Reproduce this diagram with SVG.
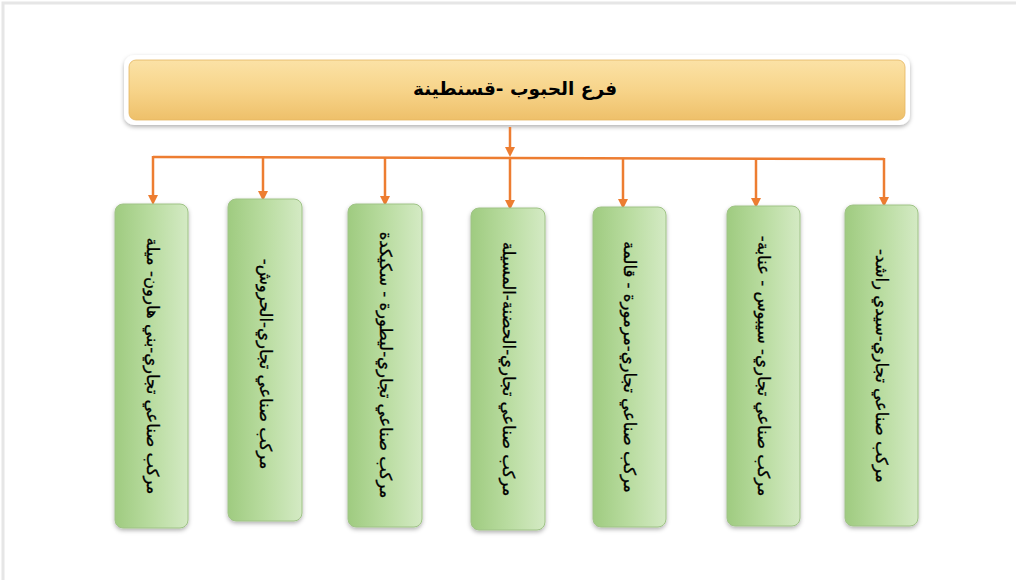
<svg xmlns="http://www.w3.org/2000/svg" width="1016" height="580" viewBox="0 0 1016 580">
<defs>
<linearGradient id="gold" x1="0" y1="0" x2="0" y2="1">
<stop offset="0" stop-color="#fbe2a6"/>
<stop offset="0.5" stop-color="#f7d48a"/>
<stop offset="1" stop-color="#eec06a"/>
</linearGradient>
<linearGradient id="green" x1="0" y1="0" x2="1" y2="0">
<stop offset="0" stop-color="#9fcb80"/>
<stop offset="0.5" stop-color="#b9dca0"/>
<stop offset="1" stop-color="#d4eac4"/>
</linearGradient>
<filter id="sh" x="-20%" y="-20%" width="140%" height="140%">
<feDropShadow dx="0" dy="2" stdDeviation="2" flood-color="#000" flood-opacity="0.3"/>
</filter>
<marker id="arr" markerWidth="10" markerHeight="10" refX="5" refY="5" orient="auto" markerUnits="userSpaceOnUse" viewBox="0 0 10 10">
<path d="M0,0 L10,5 L0,10 z" fill="#ed7d31"/>
</marker>
</defs>
<style>
.conn{stroke:#ed7d31;stroke-width:2.5;fill:none}
.gbox{fill:url(#green);stroke:#9fc386;stroke-width:1;filter:url(#sh)}
.lbl{font-family:"DejaVu Sans",sans-serif;font-size:16.5px;fill:#000;direction:rtl;stroke:#000;stroke-width:0.3}
.title{font-family:"DejaVu Sans",sans-serif;font-size:18.5px;font-weight:bold;fill:#000;direction:rtl}
</style>
<rect x="0" y="0" width="1016" height="580" fill="#fff"/>
<path d="M3,580 L3,3 L1016,3" fill="none" stroke="#e6e6e6" stroke-width="3"/>
<g id="root">
<rect x="124" y="55" width="786" height="70" rx="10" fill="#fff" filter="url(#sh)"/>
<rect x="129" y="60" width="776" height="60" rx="7" fill="url(#gold)" stroke="#e5b560" stroke-width="0.8"/>
<text class="title" x="515" y="95" text-anchor="middle">فرع الحبوب -قسنطينة</text>
</g>
<g id="connectors">
<line class="conn" x1="510" y1="127" x2="510" y2="152" marker-end="url(#arr)"/>
<polyline class="conn" points="153,157 884,159"/>
<line class="conn" x1="153" y1="156" x2="153" y2="200" marker-end="url(#arr)"/>
<line class="conn" x1="884" y1="158" x2="884" y2="202" marker-end="url(#arr)"/>
<line class="conn" x1="263" y1="157" x2="263" y2="196" marker-end="url(#arr)"/>
<line class="conn" x1="385" y1="158" x2="385" y2="201" marker-end="url(#arr)"/>
<line class="conn" x1="510" y1="158" x2="510" y2="205" marker-end="url(#arr)"/>
<line class="conn" x1="623" y1="158" x2="623" y2="204" marker-end="url(#arr)"/>
<line class="conn" x1="756" y1="159" x2="756" y2="203" marker-end="url(#arr)"/>
</g>
<g id="n1">
<rect class="gbox" x="115" y="204" width="73" height="324" rx="8"/>
<text class="lbl" transform="translate(152,366) rotate(90)" text-anchor="middle" dy="5">مركب صناعي تجاري-بني هارون- ميلة</text>
</g>
<g id="n2">
<rect class="gbox" x="228" y="199" width="74" height="322" rx="8"/>
<text class="lbl" transform="translate(265,364) rotate(90)" text-anchor="middle" dy="5">مركب صناعي تجاري-الحروش-</text>
</g>
<g id="n3">
<rect class="gbox" x="348" y="204" width="74" height="323" rx="8"/>
<text class="lbl" transform="translate(385,365) rotate(90)" text-anchor="middle" dy="5">مركب صناعي تجاري-ليطورة - سكيكدة</text>
</g>
<g id="n4">
<rect class="gbox" x="471" y="208" width="74" height="322" rx="8"/>
<text class="lbl" transform="translate(508,369) rotate(90)" text-anchor="middle" dy="5">مركب صناعي تجاري-الحضنة-المسيلة</text>
</g>
<g id="n5">
<rect class="gbox" x="593" y="207" width="73" height="320" rx="8"/>
<text class="lbl" transform="translate(629,367) rotate(90)" text-anchor="middle" dy="5">مركب صناعي تجاري-مرمورة - قالمة</text>
</g>
<g id="n6">
<rect class="gbox" x="727" y="206" width="73" height="320" rx="8"/>
<text class="lbl" transform="translate(763,366) rotate(90)" text-anchor="middle" dy="5">مركب صناعي تجاري- سيبوس - عنابة-</text>
</g>
<g id="n7">
<rect class="gbox" x="845" y="205" width="73" height="321" rx="8"/>
<text class="lbl" transform="translate(881,366) rotate(90)" text-anchor="middle" dy="5">مركب صناعي تجاري-سيدي راشد-</text>
</g>
</svg>
